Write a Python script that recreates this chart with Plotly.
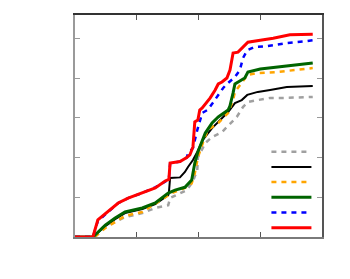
import plotly.graph_objects as go

# ---- data ----
gray_x = [0, 0.32, 0.49, 0.81, 1.09, 1.30, 1.51, 1.54, 1.81, 1.91, 1.98, 1.99, 2.11, 2.22, 2.38, 2.48, 2.54, 2.62, 2.72, 2.80, 2.96, 3.16, 3.43, 3.85]
gray_y = [0, 0, 0.05, 0.10, 0.12, 0.146, 0.16, 0.196, 0.236, 0.28, 0.337, 0.40, 0.473, 0.503, 0.528, 0.559, 0.574, 0.604, 0.654, 0.679, 0.689, 0.70, 0.70, 0.705]

black_x = [0, 0.29, 0.49, 0.65, 0.81, 1.09, 1.30, 1.51, 1.52, 1.54, 1.70, 1.78, 1.83, 1.91, 1.98, 2.02, 2.07, 2.22, 2.38, 2.48, 2.59, 2.70, 2.79, 2.96, 3.16, 3.43, 3.85]
black_y = [0, 0, 0.055, 0.09, 0.12, 0.141, 0.166, 0.211, 0.221, 0.297, 0.30, 0.327, 0.352, 0.387, 0.428, 0.453, 0.488, 0.548, 0.599, 0.629, 0.674, 0.689, 0.715, 0.73, 0.74, 0.755, 0.76]

orange_x = [0, 0.32, 0.49, 0.81, 1.09, 1.46, 1.57, 1.78, 1.89, 1.94, 1.99, 2.07, 2.15, 2.32, 2.48, 2.56, 2.59, 2.70, 2.79, 2.96, 3.27, 3.85]
orange_y = [0, 0, 0.045, 0.106, 0.126, 0.196, 0.221, 0.247, 0.27, 0.32, 0.40, 0.473, 0.538, 0.574, 0.624, 0.689, 0.73, 0.775, 0.815, 0.825, 0.83, 0.85]

green_x = [0, 0.29, 0.49, 0.65, 0.81, 1.09, 1.30, 1.51, 1.62, 1.78, 1.89, 1.94, 1.99, 2.06, 2.11, 2.22, 2.32, 2.48, 2.51, 2.56, 2.59, 2.75, 2.80, 3.00, 3.27, 3.53, 3.85]
green_y = [0, 0, 0.06, 0.096, 0.126, 0.146, 0.171, 0.221, 0.236, 0.25, 0.287, 0.372, 0.428, 0.478, 0.523, 0.574, 0.604, 0.639, 0.66, 0.725, 0.77, 0.80, 0.83, 0.845, 0.855, 0.866, 0.876]

blue_x = [0, 0.29, 0.37, 0.53, 0.70, 0.86, 1.09, 1.30, 1.46, 1.52, 1.54, 1.70, 1.81, 1.83, 1.91, 1.98, 2.06, 2.15, 2.23, 2.40, 2.46, 2.59, 2.67, 2.72, 2.79, 2.91, 3.11, 3.43, 3.76, 3.85]
blue_y = [0, 0, 0.08, 0.126, 0.171, 0.196, 0.221, 0.25, 0.282, 0.29, 0.37, 0.38, 0.40, 0.42, 0.448, 0.538, 0.624, 0.64, 0.674, 0.75, 0.77, 0.805, 0.84, 0.90, 0.94, 0.956, 0.96, 0.976, 0.986, 0.99]

red_x = [0, 0.29, 0.37, 0.53, 0.70, 0.86, 1.09, 1.30, 1.46, 1.52, 1.54, 1.70, 1.81, 1.86, 1.91, 1.94, 1.99, 2.02, 2.06, 2.19, 2.27, 2.32, 2.38, 2.46, 2.51, 2.56, 2.64, 2.75, 2.80, 3.00, 3.21, 3.48, 3.85]
red_y = [0, 0, 0.086, 0.126, 0.171, 0.196, 0.221, 0.247, 0.282, 0.29, 0.372, 0.38, 0.40, 0.413, 0.453, 0.579, 0.589, 0.639, 0.649, 0.70, 0.74, 0.77, 0.78, 0.80, 0.84, 0.926, 0.93, 0.966, 0.98, 0.99, 1.00, 1.017, 1.02]

x_ticks = [1, 2, 3]
y_ticks = [0.2, 0.4, 0.6, 0.8, 1.0]

series = [
    (gray_x, gray_y, "#a0a0a0", 2.5, "5px,5px"),
    (black_x, black_y, "#000000", 2, "solid"),
    (orange_x, orange_y, "#ffa500", 2.5, "5px,5px"),
    (green_x, green_y, "#006400", 3, "solid"),
    (blue_x, blue_y, "#0000ff", 2.5, "5px,5px"),
    (red_x, red_y, "#ff0000", 3, "solid"),
]

fig = go.Figure()
leg_y_px = [151.7, 166.9, 182.1, 197.3, 212.5, 227.8]
layout_legends = {}
for i, (xs, ys, col, w, dash) in enumerate(series):
    lname = "legend" if i == 0 else f"legend{i+1}"
    fig.add_trace(go.Scatter(x=xs, y=ys, mode="lines", name=" ",
                             line=dict(color=col, width=w, dash=dash),
                             legend=lname))
    layout_legends[lname] = dict(
        x=0.775, xanchor="left",
        y=(237 - leg_y_px[i]) / 222.0, yanchor="middle",
        bgcolor="rgba(0,0,0,0)", borderwidth=0,
        itemwidth=40, font=dict(size=8), itemclick=False,
    )

# empty trace so the top / right frame axes get drawn
fig.add_trace(go.Scatter(x=[], y=[], xaxis="x2", yaxis="y2", showlegend=False,
                         hoverinfo="skip"))

# the page body has an 8px margin, so the figure is shrunk by 8px and the
# top/left margins are reduced accordingly
fig.update_layout(
    width=342, height=271,
    margin=dict(l=67, r=28, t=7, b=42, pad=0),
    paper_bgcolor="white", plot_bgcolor="white",
    showlegend=True,
    xaxis=dict(range=[0, 4], showline=True, linecolor="#7a7a7a", linewidth=1.5,
               ticks="inside", tickvals=x_ticks, ticklen=5, tickcolor="#555",
               showticklabels=False, showgrid=False, zeroline=False),
    xaxis2=dict(range=[0, 4], overlaying="x", side="top", showline=True,
                linecolor="#333333", linewidth=1.5, ticks="inside", tickvals=x_ticks,
                ticklen=5, tickcolor="#555", showticklabels=False, showgrid=False,
                zeroline=False),
    yaxis=dict(range=[0, 1.117], showline=True, linecolor="#9a9a9a", linewidth=1.5,
               ticks="inside", tickvals=y_ticks, ticklen=5, tickcolor="#999",
               showticklabels=False, showgrid=False, zeroline=False),
    yaxis2=dict(range=[0, 1.117], overlaying="y", side="right", showline=True,
                linecolor="#555555", linewidth=1.5, ticks="inside", tickvals=y_ticks,
                ticklen=5, tickcolor="#999", showticklabels=False, showgrid=False,
                zeroline=False),
    **layout_legends,
)

fig.write_html("out.html")
